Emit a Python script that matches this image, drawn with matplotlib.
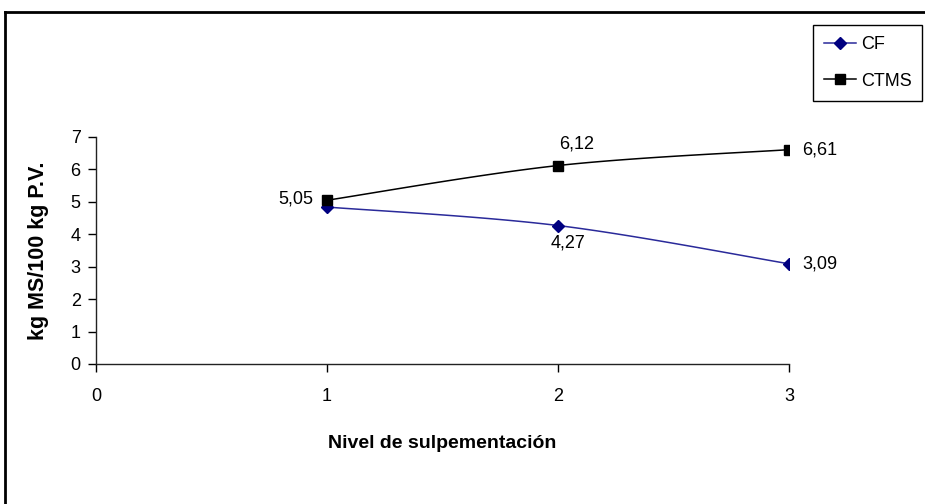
import numpy as np
import matplotlib
matplotlib.use("Agg")
import matplotlib.pyplot as plt
from matplotlib.lines import Line2D

plt.rcParams['font.family'] = ['Liberation Sans', 'DejaVu Sans']

niveles = [1, 2, 3]
cf = [4.84, 4.27, 3.09]
ctms = [5.05, 6.12, 6.61]
cf_labels = [None, "4,27", "3,09"]
ctms_labels = ["5,05", "6,12", "6,61"]
xticks = [0, 1, 2, 3]
yticks = [0, 1, 2, 3, 4, 5, 6, 7]


def smooth(x, y, n=40):
    x = np.asarray(x, float)
    y = np.asarray(y, float)
    px = np.concatenate([[x[0]], x, [x[-1]]])
    py = np.concatenate([[y[0]], y, [y[-1]]])
    xs, ys = [], []
    for i in range(1, len(px) - 2):
        p0 = np.array([px[i - 1], py[i - 1]])
        p1 = np.array([px[i], py[i]])
        p2 = np.array([px[i + 1], py[i + 1]])
        p3 = np.array([px[i + 2], py[i + 2]])
        c1 = p1 + (p2 - p0) / 6
        c2 = p2 - (p3 - p1) / 6
        t = np.linspace(0, 1, n)[:, None]
        b = ((1 - t) ** 3) * p1 + 3 * ((1 - t) ** 2) * t * c1 + 3 * (1 - t) * t ** 2 * c2 + t ** 3 * p2
        xs.extend(b[:, 0])
        ys.extend(b[:, 1])
    return np.array(xs), np.array(ys)


fig = plt.figure(figsize=(9.25, 5.04), dpi=100)
ax = fig.add_axes([96 / 925, 1 - 364 / 504, (789 - 96) / 925, (364 - 137) / 504])

navy = '#000080'
sx, sy = smooth(niveles, cf)
ax.plot(sx, sy, color='#2a2a9a', lw=1.1, zorder=2)
ax.plot(niveles, cf, ls='none', marker='D', ms=6.5, color=navy, zorder=3)
sx, sy = smooth(niveles, ctms)
ax.plot(sx, sy, color='black', lw=1.1, zorder=2)
ax.plot(niveles, ctms, ls='none', marker='s', ms=6.5, color='black', zorder=3)

fs = 13
offs_ctms = [(-14, 1, 'right', 'center'), (1, 13, 'left', 'bottom'), (13, 0, 'left', 'center')]
offs_cf = [None, (-7, -9, 'left', 'top'), (13, 0, 'left', 'center')]
for x, y, lab, o in zip(niveles, ctms, ctms_labels, offs_ctms):
    ax.annotate(lab, (x, y), xytext=(o[0], o[1]), textcoords='offset pixels',
                ha=o[2], va=o[3], fontsize=fs, clip_on=False)
for x, y, lab, o in zip(niveles, cf, cf_labels, offs_cf):
    if lab is None:
        continue
    ax.annotate(lab, (x, y), xytext=(o[0], o[1]), textcoords='offset pixels',
                ha=o[2], va=o[3], fontsize=fs, clip_on=False)

ax.set_xlim(0, 3)
ax.set_ylim(0, 7)
ax.set_xticks(xticks)
ax.set_yticks(yticks)
ax.tick_params(direction='out', length=5.5, width=1, labelsize=fs, pad=5.5)
ax.tick_params(axis='x', pad=12)
for s in ['top', 'right']:
    ax.spines[s].set_visible(False)
for s in ['left', 'bottom']:
    ax.spines[s].set_linewidth(1)
    ax.spines[s].set_color('#222222')

ax.set_xlabel("Nivel de sulpementación", fontsize=14, fontweight='bold')
ax.xaxis.set_label_coords(0.5, -(435 - 364) / 227, transform=ax.transAxes)
ax.set_ylabel("kg MS/100 kg P.V.", fontsize=15.5, fontweight='bold')
ax.yaxis.set_label_coords(-(96 - 49) / 693, 0.5, transform=ax.transAxes)

handles = [Line2D([], [], color='#2a2a9a', marker='D', ms=6.5, mfc=navy, mec=navy, lw=1.1),
           Line2D([], [], color='black', marker='s', ms=6.5, lw=1.1)]
leg = fig.legend(handles, ['CF', 'CTMS'], loc='upper left',
                 bbox_to_anchor=(813 / 925, 1 - 25 / 504), fontsize=fs,
                 frameon=True, fancybox=False, edgecolor='black', framealpha=1,
                 handlelength=1.8, handletextpad=0.25, borderpad=0.6, labelspacing=1.1,
                 borderaxespad=0)
leg.get_frame().set_linewidth(1)

fig.add_artist(Line2D([5 / 925, 1], [1 - 12 / 504, 1 - 12 / 504], color='black', lw=2, transform=fig.transFigure))
fig.add_artist(Line2D([5 / 925, 5 / 925], [0, 1 - 12 / 504], color='black', lw=2, transform=fig.transFigure))

fig.savefig('out.png', dpi=100)
